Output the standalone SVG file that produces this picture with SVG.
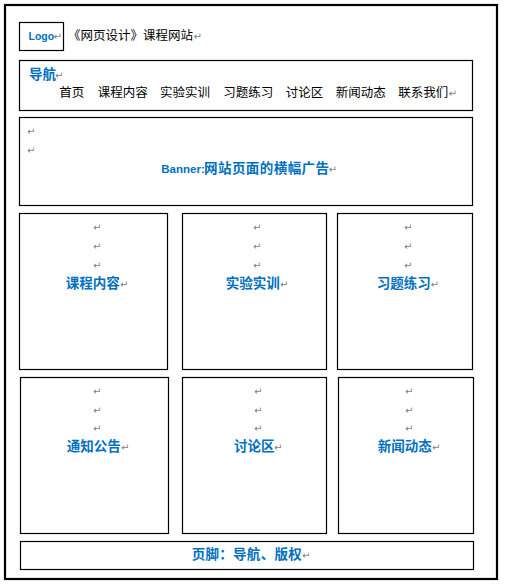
<svg xmlns="http://www.w3.org/2000/svg" width="505" height="586" viewBox="0 0 505 586">
<style>
.box{fill:#fff;stroke:#000;stroke-width:1.2}
.frame{fill:#fff;stroke:#000;stroke-width:2.2}
.cn{font-family:"Noto Sans CJK SC","Liberation Sans",sans-serif;fill:#000;font-size:12.5px}
.lbl{font-family:"Noto Sans CJK SC","Liberation Sans",sans-serif;fill:#0070C0;font-weight:bold;font-size:13.5px}
.lat{font-family:"Liberation Sans","Noto Sans CJK SC",sans-serif;fill:#0070C0;font-weight:bold}
.rm{font-family:"DejaVu Sans",sans-serif;fill:#7f7f7f;font-size:10px}
</style>
<rect class="frame" x="5" y="5" width="492" height="574"/>
<g id="logo">
<rect class="box" x="19.5" y="22.5" width="44" height="28"/>
<text class="lat" x="28.5" y="40" font-size="10.5">Logo</text>
<text class="rm" x="53.5" y="40">↵</text>
</g>
<g id="title">
<text class="cn" x="68" y="39.5">《网页设计》课程网站</text>
<text class="rm" x="193.5" y="40">↵</text>
</g>
<g id="nav">
<rect class="box" x="19.5" y="60.5" width="453" height="50"/>
<text class="lbl" x="29" y="78.5" font-size="13">导航</text>
<text class="rm" x="55" y="79">↵</text>
<text class="cn" x="59.3" y="97">首页</text>
<text class="cn" x="97.7" y="97">课程内容</text>
<text class="cn" x="160" y="97">实验实训</text>
<text class="cn" x="223.3" y="97">习题练习</text>
<text class="cn" x="285.7" y="97">讨论区</text>
<text class="cn" x="335.7" y="97">新闻动态</text>
<text class="cn" x="398.3" y="97">联系我们</text>
<text class="rm" x="448.5" y="97">↵</text>
</g>
<g id="banner">
<rect class="box" x="19.5" y="117.5" width="453" height="88"/>
<text class="rm" x="27" y="135">↵</text>
<text class="rm" x="27" y="153.5">↵</text>
<text class="lat" x="161.3" y="172.5" font-size="11.5">Banner:</text>
<text class="lbl" x="204" y="172.5" font-size="13.9" textLength="125" lengthAdjust="spacing">网站页面的横幅广告</text>
<text class="rm" x="328.5" y="172.5">↵</text>
</g>
<g id="course">
<rect class="box" x="19.5" y="213.5" width="148" height="156"/>
<text class="rm" x="93" y="231">↵</text><text class="rm" x="93" y="250">↵</text><text class="rm" x="93" y="269">↵</text>
<text class="lbl" x="65.7" y="287.5">课程内容</text><text class="rm" x="120" y="287.5">↵</text>
</g>
<g id="lab">
<rect class="box" x="182.5" y="213.5" width="144" height="156"/>
<text class="rm" x="253" y="231">↵</text><text class="rm" x="253" y="250">↵</text><text class="rm" x="253" y="269">↵</text>
<text class="lbl" x="225.7" y="287.5">实验实训</text><text class="rm" x="280" y="287.5">↵</text>
</g>
<g id="exercise">
<rect class="box" x="337.5" y="213.5" width="135" height="156"/>
<text class="rm" x="404" y="231">↵</text><text class="rm" x="404" y="250">↵</text><text class="rm" x="404" y="269">↵</text>
<text class="lbl" x="376.7" y="287.5">习题练习</text><text class="rm" x="430.5" y="287.5">↵</text>
</g>
<g id="notice">
<rect class="box" x="20.5" y="377.5" width="148" height="156"/>
<text class="rm" x="93" y="395">↵</text><text class="rm" x="93" y="413.5">↵</text><text class="rm" x="93" y="432">↵</text>
<text class="lbl" x="66.7" y="450.5">通知公告</text><text class="rm" x="121" y="450.5">↵</text>
</g>
<g id="forum">
<rect class="box" x="182.5" y="377.5" width="144" height="156"/>
<text class="rm" x="254" y="395">↵</text><text class="rm" x="254" y="413.5">↵</text><text class="rm" x="254" y="432">↵</text>
<text class="lbl" x="234" y="450.5">讨论区</text><text class="rm" x="274" y="450.5">↵</text>
</g>
<g id="news">
<rect class="box" x="338.5" y="377.5" width="135" height="156"/>
<text class="rm" x="405" y="395">↵</text><text class="rm" x="405" y="413.5">↵</text><text class="rm" x="405" y="432">↵</text>
<text class="lbl" x="377.7" y="450.5">新闻动态</text><text class="rm" x="432" y="450.5">↵</text>
</g>
<g id="footer">
<rect class="box" x="20.5" y="541.5" width="453" height="28"/>
<text class="lbl" x="191.7" y="559" textLength="110" lengthAdjust="spacing">页脚：导航、版权</text>
<text class="rm" x="302" y="559">↵</text>
</g>
<g id="connectors"/>
</svg>
